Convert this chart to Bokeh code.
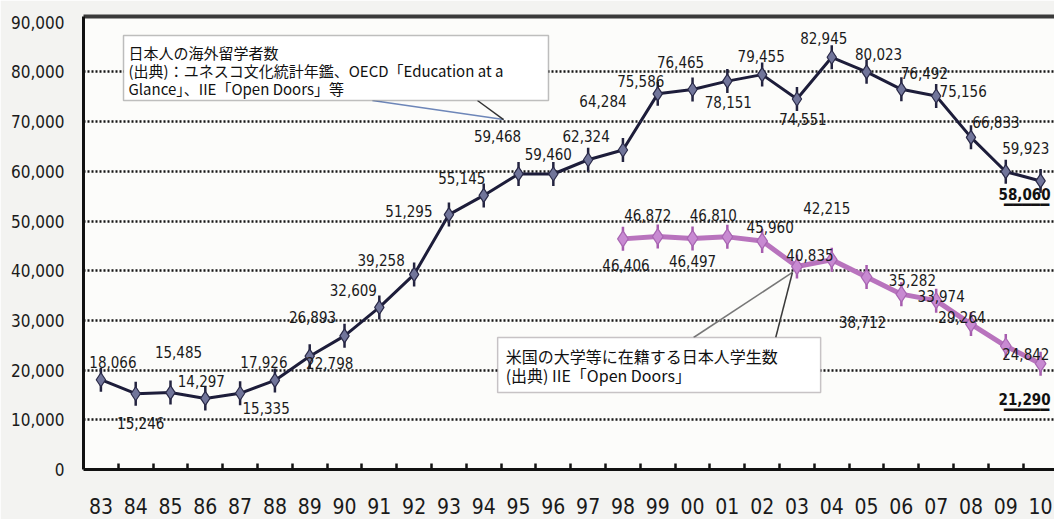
from bokeh.plotting import figure
from bokeh.models import (Range1d, FixedTicker, NumeralTickFormatter, LinearAxis,
                          BoxAnnotation, Arrow, Label)
from bokeh.core.properties import value
from bokeh.embed import file_html
from bokeh.resources import INLINE
import math

# ---------------- data ----------------
years = list(range(1983, 2011))
year_labels = ["83", "84", "85", "86", "87", "88", "89", "90", "91", "92", "93", "94",
               "95", "96", "97", "98", "99", "00", "01", "02", "03", "04", "05", "06",
               "07", "08", "09", "10"]
abroad = [18066, 15246, 15485, 14297, 15335, 17926, 22798, 26893, 32609, 39258,
          51295, 55145, 59468, 59460, 62324, 64284, 75586, 76465, 78151, 79455,
          74551, 82945, 80023, 76492, 75156, 66833, 59923, 58060]
us_years = list(range(1998, 2011))
us_students = [46406, 46872, 46497, 46810, 45960, 40835, 42215, 38712, 35282,
               33974, 29264, 24842, 21290]
y_ticks = [0, 10000, 20000, 30000, 40000, 50000, 60000, 70000, 80000, 90000]

abroad_note = "日本人の海外留学者数\n(出典)：ユネスコ文化統計年鑑、OECD「Education at a\nGlance」、IIE「Open Doors」等"
us_note = "米国の大学等に在籍する日本人学生数\n(出典) IIE「Open Doors」"

# label placement (screen px, +down) - style only
abroad_dx = [12, 5, 8, -4, 26, -11, 20, -32, -26, -33, -40, -22, -21, -5, -2, -20,
             -17, -12, 1, -1, 6, -8, 12, 23, 27, 25, 20]
abroad_dy = [-18, 29, -41, -17, 15, -18, 7, -19, -17, -14, -4, -17, -38, -20, -24, -49,
             -13, -27, 21, -19, 20, -19, -18, -16, -5, -15, -24]
us_dx = [3, -10, 0, -14, 8, 13, -5, -4, 11, 5, -9, 20]
us_dy = [26, -22, 23, -22, -14, -12, -52, 45, -14, -5, -7, 8]

NARROW = "DejaVu Sans Condensed"
CJK = "Noto Sans CJK JP"

p = figure(width=1054, height=519, output_backend="svg", toolbar_location=None,
           x_range=Range1d(1982.5, 2010.40), y_range=Range1d(0, 91150),
           min_border_left=83, min_border_right=0, min_border_top=16, min_border_bottom=50,
           background_fill_color="#fcfcfa", border_fill_color="#f3f3f1",
           outline_line_color=None)

# axes
p.yaxis.ticker = FixedTicker(ticks=y_ticks)
p.yaxis.formatter = NumeralTickFormatter(format="0,0")
p.yaxis.major_tick_line_color = None
p.yaxis.minor_tick_line_color = None
p.yaxis.axis_line_color = "#111111"
p.yaxis.axis_line_width = 3
p.yaxis.major_label_text_font = NARROW
p.yaxis.major_label_text_font_size = "17px"
p.yaxis.major_label_text_color = "#1a1a1a"
p.yaxis.major_label_standoff = 13

p.xaxis.ticker = FixedTicker(ticks=years, minor_ticks=[y + 0.5 for y in years[:-1]])
p.xaxis.major_label_overrides = {y: l for y, l in zip(years, year_labels)}
p.xaxis.major_tick_line_color = None
p.xaxis.minor_tick_in = 6
p.xaxis.minor_tick_out = 0
p.xaxis.minor_tick_line_width = 2.5
p.xaxis.minor_tick_line_color = "#111111"
p.xaxis.axis_line_color = "#111111"
p.xaxis.axis_line_width = 3
p.xaxis.major_label_text_font = NARROW
p.xaxis.major_label_text_font_size = "21px"
p.xaxis.major_label_text_color = "#1a1a1a"
p.xaxis.major_label_standoff = 22

top = LinearAxis(ticker=FixedTicker(ticks=[]), axis_line_color="#3a3a3a", axis_line_width=4,
                 major_tick_line_color=None, minor_tick_line_color=None,
                 major_label_text_font_size="0px", major_label_standoff=0)
p.add_layout(top, "above")

p.xgrid.grid_line_color = None
p.ygrid.ticker = FixedTicker(ticks=y_ticks[1:-1])
p.ygrid.grid_line_color = "#151515"
p.ygrid.grid_line_width = 2.5
p.ygrid.grid_line_dash = "2 2"

# callout boxes (layout decoration)
b1 = dict(left=1983.65, right=1995.86, top=87320, bottom=74250)
b2 = dict(left=1994.40, right=2003.68, top=26560, bottom=15490)
p.add_layout(Arrow(x_start=1990.8, y_start=b1["bottom"], x_end=1994.57, y_end=70420,
                   end=None, line_color="#6d86b8", line_width=1.5))
p.add_layout(Arrow(x_start=1993.82, y_start=b1["bottom"], x_end=1994.57, y_end=70420,
                   end=None, line_color="#333333", line_width=1.5))
p.add_layout(Arrow(x_start=2000.03, y_start=b2["top"], x_end=2002.87, y_end=39640,
                   end=None, line_color="#777777", line_width=1.5))
p.add_layout(Arrow(x_start=2002.39, y_start=b2["top"], x_end=2002.87, y_end=39640,
                   end=None, line_color="#3a3a3a", line_width=1.5))
p.add_layout(BoxAnnotation(left=b1["left"], right=b1["right"], top=b1["top"], bottom=b1["bottom"],
                           fill_color="white", fill_alpha=1, line_color="#2a2a2a", line_width=1.5,
                           level="overlay"))
p.add_layout(BoxAnnotation(left=b2["left"], right=b2["right"], top=b2["top"], bottom=b2["bottom"],
                           fill_color="white", fill_alpha=1, line_color="#4a3a46", line_width=1.5,
                           level="overlay"))
p.add_layout(Label(x=b1["left"], y=b1["top"], x_offset=5, y_offset=-6, text=abroad_note,
                   text_font=CJK, text_font_size="15px", text_color="#111111",
                   text_baseline="top", text_line_height=0.87, level="overlay"))
p.add_layout(Label(x=b2["left"], y=b2["top"], x_offset=8, y_offset=-6, text=us_note,
                   text_font=CJK, text_font_size="16px", text_color="#111111",
                   text_baseline="top", text_line_height=0.82, level="overlay"))

# series 1: overseas students
p.line(years, abroad, line_color="#1d1d3a", line_width=3)
p.scatter(years, abroad, marker="dash", angle=math.pi / 2, size=24,
          line_color="#23233f", line_width=2.5)
p.scatter(years, abroad, marker="diamond", size=14, fill_color="#71759a",
          line_color="#2a2a48", line_width=1.2)

# series 2: students in US
p.line(us_years, us_students, line_color="#b873bd", line_width=5)
p.scatter(us_years, us_students, marker="dash", angle=math.pi / 2, size=24,
          line_color="#a65cae", line_width=2.5)
p.scatter(us_years, us_students, marker="diamond", size=16, fill_color="#c88ad2",
          line_color="#a866b2", line_width=1.2)

# data labels
p.text(years[:-1], abroad[:-1], text=[f"{v:,}" for v in abroad[:-1]],
       x_offset=abroad_dx, y_offset=abroad_dy, text_align="center", text_baseline="middle",
       text_font=value(NARROW), text_font_size="15px", text_color="#1a1a1a")
p.text(us_years[:-1], us_students[:-1], text=[f"{v:,}" for v in us_students[:-1]],
       x_offset=us_dx, y_offset=us_dy, text_align="center", text_baseline="middle",
       text_font=value(NARROW), text_font_size="15px", text_color="#1a1a1a")

# emphasised final values (bold, underlined)
p.text([years[-1], us_years[-1]], [abroad[-1], us_students[-1]],
       text=[f"{abroad[-1]:,}", f"{us_students[-1]:,}"],
       x_offset=[-16, -16], y_offset=[13, 35], text_align="center", text_baseline="middle",
       text_font=value(NARROW), text_font_size="15px", text_font_style="bold",
       text_color="#111111")
p.text([years[-1], us_years[-1]], [abroad[-1], us_students[-1]],
       text=["━━━━━", "━━━━━"],
       x_offset=[-14, -14], y_offset=[24, 46], text_align="center", text_baseline="middle",
       text_font=value("DejaVu Sans Mono"), text_font_size="15px", text_color="#111111")

open("out.html", "w").write(file_html(p, INLINE))
